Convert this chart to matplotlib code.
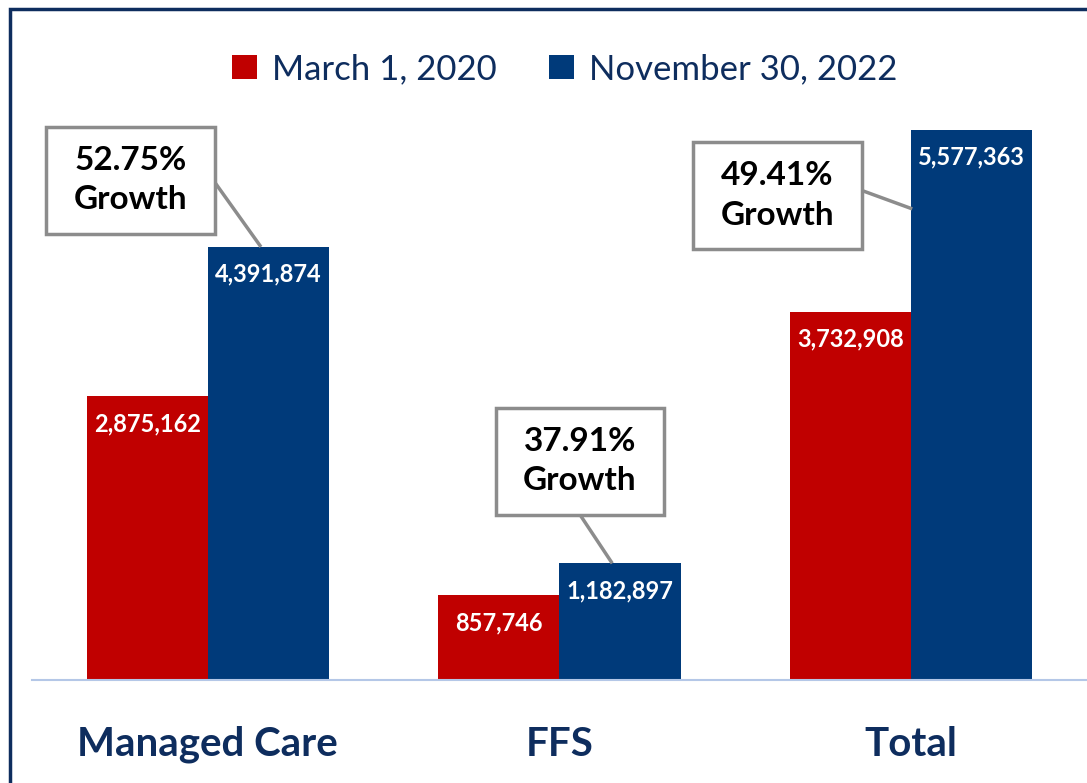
import matplotlib.pyplot as plt
from matplotlib.patches import Rectangle
import numpy as np

plt.rcParams['font.family'] = ['Lato', 'DejaVu Sans']

categories = ['Managed Care', 'FFS', 'Total']
march_2020 = [2875162, 857746, 3732908]
nov_2022 = [4391874, 1182897, 5577363]
growth_labels = ['52.75%\nGrowth', '37.91%\nGrowth', '49.41%\nGrowth']

RED = '#C00000'
BLUE = '#003A7A'
NAVY = '#0E2D5E'
GREY = '#8C8C8C'

fig = plt.figure(figsize=(10.87, 7.83), dpi=100)
ax = fig.add_axes([32 / 1087, 1 - 680 / 783, 1 - 32 / 1087, 641 / 783])

x = np.arange(len(categories))
w = 0.345
b1 = ax.bar(x - w / 2, march_2020, w, color=RED, label='March 1, 2020')
b2 = ax.bar(x + w / 2, nov_2022, w, color=BLUE, label='November 30, 2022')

ax.set_xlim(-0.5, 2.5)
ax.set_ylim(0, 6.5e6)

# value labels inside the bars
for bars, vals in [(b1, march_2020), (b2, nov_2022)]:
    for bar, v in zip(bars, vals):
        ax.annotate(f'{v:,}', (bar.get_x() + bar.get_width() / 2, v),
                    xytext=(0, -19.5), textcoords='offset points',
                    ha='center', va='center', color='white',
                    fontsize=17, fontweight='bold')

# growth callouts: box centre, box size, where the leader line starts/ends
box_pos = [(-0.22, 5.07e6), (1.058, 2.22e6), (1.62, 4.91e6)]
box_w, box_h = 0.479, 1.085e6
line_start = [(1.0, 0.48), (0.5, 0.0), (1.0, 0.55)]
line_end = [(0.151, 0.0), (0.150, 0.0), (0.003, -0.80e6)]
for i in range(len(categories)):
    cx, cy = box_pos[i]
    x0, y0 = cx - box_w / 2, cy - box_h / 2
    ax.add_patch(Rectangle((x0, y0), box_w, box_h, fc='white', ec=GREY,
                           lw=2.5, zorder=4))
    ax.text(cx, cy, growth_labels[i], ha='center', va='center', fontsize=24,
            fontweight='bold', color='black', linespacing=1.45, zorder=5)
    sx = x0 + line_start[i][0] * box_w
    sy = y0 + line_start[i][1] * box_h
    ex = x[i] + line_end[i][0]
    ey = nov_2022[i] + line_end[i][1]
    ax.plot([sx, ex], [sy, ey], color=GREY, lw=2.5, zorder=3,
            solid_capstyle='butt')

ax.set_xticks(x)
ax.set_xticklabels(categories, fontsize=29, fontweight='bold', color=NAVY)
ax.tick_params(axis='x', length=0, pad=33)
ax.set_yticks([])
for s in ['top', 'right', 'left']:
    ax.spines[s].set_visible(False)
ax.spines['bottom'].set_color('#B4C7E7')
ax.spines['bottom'].set_linewidth(1.5)

leg = fig.legend(loc='center', bbox_to_anchor=(565 / 1087, 1 - 69 / 783),
                 ncol=2, frameon=False, fontsize=25, handlelength=0.7,
                 handleheight=0.7, handletextpad=0.45, columnspacing=1.5)
for t in leg.get_texts():
    t.set_color(NAVY)

# navy frame, cut off at right and bottom
fig.patches.append(Rectangle((10 / 1087, -0.1), 1.2, 1.1 - 9 / 783,
                             transform=fig.transFigure, fill=False,
                             ec=NAVY, lw=2.5))

fig.savefig('out.png', dpi=100)
